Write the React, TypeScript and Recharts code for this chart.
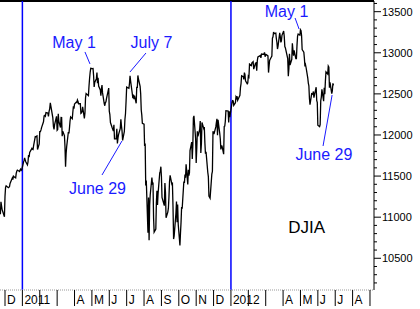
import { LineChart, Line, XAxis, YAxis, ReferenceLine, ReferenceDot } from 'recharts';

// DJIA daily closes (month-day / close)
const dates2010 = ['11-19', '11-23', '11-24', '11-26', '11-30', '12-01', '12-02', '12-03', '12-07', '12-09', '12-10', '12-14', '12-15', '12-16', '12-17', '12-20', '12-21', '12-22', '12-23', '12-27', '12-28', '12-29', '12-30', '12-31'];
const close2010 = [11204, 11036, 11187, 11092, 11006, 11255, 11362, 11382, 11359, 11370, 11410, 11476, 11457, 11499, 11491, 11478, 11533, 11559, 11573, 11555, 11575, 11585, 11569, 11577];

const dates2011 = [
  '01-03', '01-04', '01-05', '01-06', '01-07', '01-10', '01-11', '01-12', '01-13', '01-14', '01-18', '01-19', '01-20', '01-21', '01-24', '01-25', '01-26', '01-27', '01-28', '01-31',
  '02-01', '02-02', '02-03', '02-04', '02-07', '02-08', '02-09', '02-10', '02-11', '02-14', '02-15', '02-16', '02-17', '02-18', '02-22', '02-23', '02-24', '02-25', '02-28',
  '03-01', '03-02', '03-03', '03-04', '03-07', '03-08', '03-09', '03-10', '03-11', '03-14', '03-15', '03-16', '03-17', '03-18', '03-21', '03-22', '03-23', '03-24', '03-25', '03-28', '03-29', '03-30', '03-31',
  '04-01', '04-04', '04-05', '04-06', '04-07', '04-08', '04-11', '04-12', '04-13', '04-14', '04-15', '04-18', '04-19', '04-20', '04-21', '04-25', '04-26', '04-27', '04-28', '04-29',
  '05-02', '05-03', '05-04', '05-05', '05-06', '05-09', '05-10', '05-11', '05-12', '05-13', '05-16', '05-17', '05-18', '05-19', '05-20', '05-23', '05-24', '05-25', '05-26', '05-27', '05-31',
  '06-01', '06-02', '06-03', '06-06', '06-07', '06-08', '06-09', '06-10', '06-13', '06-14', '06-15', '06-16', '06-17', '06-20', '06-21', '06-22', '06-23', '06-24', '06-27', '06-28', '06-29', '06-30',
  '07-01', '07-05', '07-06', '07-07', '07-08', '07-11', '07-12', '07-13', '07-14', '07-15', '07-18', '07-19', '07-20', '07-21', '07-22', '07-25', '07-26', '07-27', '07-28', '07-29',
  '08-01', '08-02', '08-03', '08-04', '08-05', '08-08', '08-09', '08-10', '08-11', '08-12', '08-15', '08-16', '08-17', '08-18', '08-19', '08-22', '08-23', '08-24', '08-25', '08-26', '08-29', '08-30', '08-31',
  '09-01', '09-02', '09-06', '09-07', '09-08', '09-09', '09-12', '09-13', '09-14', '09-15', '09-16', '09-19', '09-20', '09-21', '09-22', '09-23', '09-26', '09-27', '09-28', '09-29', '09-30',
  '10-03', '10-04', '10-05', '10-06', '10-07', '10-10', '10-11', '10-12', '10-13', '10-14', '10-17', '10-18', '10-19', '10-20', '10-21', '10-24', '10-25', '10-26', '10-27', '10-28', '10-31',
  '11-01', '11-02', '11-03', '11-04', '11-07', '11-08', '11-09', '11-10', '11-11', '11-14', '11-15', '11-16', '11-17', '11-18', '11-21', '11-22', '11-23', '11-25', '11-28', '11-29', '11-30',
  '12-01', '12-02', '12-05', '12-06', '12-07', '12-08', '12-09', '12-12', '12-13', '12-14', '12-15', '12-16', '12-19', '12-20', '12-21', '12-22', '12-23', '12-27', '12-28', '12-29', '12-30',
];
const close2011 = [
  11670, 11691, 11722, 11697, 11674, 11637, 11671, 11755, 11731, 11787, 11837, 11825, 11822, 11871, 11980, 11978, 11985, 11989, 11823, 11891,
  12040, 12041, 12062, 12092, 12161, 12233, 12239, 12229, 12273, 12268, 12226, 12288, 12318, 12391, 12212, 12105, 12068, 12130, 12226,
  12058, 12066, 12258, 12169, 12090, 12214, 12213, 11984, 12044, 11993, 11855, 11613, 11775, 11858, 12036, 12018, 12086, 12170, 12220, 12198, 12279, 12350, 12320,
  12377, 12400, 12394, 12426, 12409, 12380, 12381, 12263, 12270, 12285, 12342, 12202, 12267, 12453, 12505, 12479, 12595, 12690, 12763, 12811,
  12807, 12808, 12723, 12584, 12638, 12685, 12760, 12630, 12696, 12596, 12548, 12479, 12560, 12606, 12512, 12381, 12356, 12394, 12402, 12442, 12570,
  12290, 12248, 12151, 12089, 12070, 12049, 12124, 11952, 11953, 12076, 11897, 11962, 12004, 12081, 12191, 12110, 12050, 11934, 12043, 12188, 12262, 12414,
  12583, 12569, 12626, 12719, 12658, 12505, 12447, 12492, 12437, 12480, 12385, 12588, 12572, 12724, 12681, 12593, 12502, 12303, 12241, 12143,
  12133, 11867, 11897, 11384, 11445, 10810, 11240, 10720, 11144, 11270, 11483, 11406, 11410, 10991, 10818, 10855, 11177, 11321, 11150, 11285, 11540, 11560, 11614,
  11494, 11240, 11140, 11415, 11296, 10993, 11062, 11106, 11247, 11434, 11510, 11401, 11408, 11125, 10734, 10772, 11044, 11191, 10939, 11154, 10913,
  10655, 10809, 10940, 11124, 11103, 11433, 11417, 11519, 11479, 11644, 11397, 11578, 11505, 11541, 11809, 11913, 11707, 11870, 12209, 12232, 11955,
  11658, 11836, 12044, 11984, 12069, 12170, 11781, 11894, 12153, 12079, 12096, 11906, 11771, 11796, 11547, 11494, 11258, 11231, 11523, 11556, 12046,
  12020, 12019, 12098, 12150, 12196, 11997, 12184, 12021, 11955, 11823, 11869, 11867, 11766, 12103, 12107, 12170, 12295, 12291, 12151, 12288, 12218,
];

const dates2012 = [
  '01-03', '01-04', '01-05', '01-06', '01-09', '01-10', '01-11', '01-12', '01-13', '01-17', '01-18', '01-19', '01-20', '01-23', '01-24', '01-25', '01-26', '01-27', '01-30', '01-31',
  '02-01', '02-02', '02-03', '02-06', '02-07', '02-08', '02-09', '02-10', '02-13', '02-14', '02-15', '02-16', '02-17', '02-21', '02-22', '02-23', '02-24', '02-27', '02-28', '02-29',
  '03-01', '03-02', '03-05', '03-06', '03-07', '03-08', '03-09', '03-12', '03-13', '03-14', '03-15', '03-16', '03-19', '03-20', '03-21', '03-22', '03-23', '03-26', '03-27', '03-28', '03-29', '03-30',
  '04-02', '04-03', '04-04', '04-05', '04-09', '04-10', '04-11', '04-12', '04-13', '04-16', '04-17', '04-18', '04-19', '04-20', '04-23', '04-24', '04-25', '04-26', '04-27', '04-30',
  '05-01', '05-02', '05-03', '05-04', '05-07', '05-08', '05-09', '05-10', '05-11', '05-14', '05-15', '05-16', '05-17', '05-18', '05-21', '05-22', '05-23', '05-24', '05-25', '05-29', '05-30', '05-31',
  '06-01', '06-04', '06-05', '06-06', '06-07', '06-08', '06-11', '06-12', '06-13', '06-14', '06-15', '06-18', '06-19', '06-20', '06-21', '06-22', '06-25', '06-26', '06-27', '06-28',
];
const close2012 = [
  12398, 12418, 12415, 12360, 12393, 12463, 12449, 12471, 12422, 12482, 12579, 12625, 12720, 12709, 12676, 12758, 12735, 12660, 12623, 12633,
  12716, 12705, 12862, 12845, 12878, 12884, 12891, 12801, 12874, 12878, 12781, 12904, 12950, 12966, 12938, 12985, 12983, 12982, 13005, 12952,
  12980, 12977, 12962, 12759, 12837, 12908, 12922, 12959, 13177, 13194, 13253, 13233, 13239, 13171, 13125, 13046, 13081, 13242, 13198, 13127, 13146, 13212,
  13264, 13199, 13075, 13060, 12930, 12716, 12806, 12987, 12850, 12921, 13116, 13032, 12965, 13029, 12928, 12928, 13090, 13204, 13229, 13214,
  13280, 13269, 13207, 13039, 13008, 12932, 12835, 12855, 12821, 12695, 12632, 12599, 12443, 12369, 12504, 12502, 12496, 12529, 12455, 12581, 12420, 12393,
  12119, 12101, 12127, 12415, 12461, 12555, 12412, 12574, 12497, 12652, 12767, 12742, 12838, 12825, 12574, 12641, 12503, 12535, 12628, 12602,
];

// x axis: one tick per month, Dec 2010 = 0
const monthTicks = [0, 1, 2, 3, 4, 5, 6, 7, 8, 9, 10, 11, 12, 13, 14, 15, 16, 17, 18, 19, 20, 21];
const monthLabels = ['D', '2011', '', '', 'A', 'M', 'J', 'J', 'A', 'S', 'O', 'N', 'D', '2012', '', '', 'A', 'M', 'J', 'J', 'A', ''];
const yearStarts = [1, 13];

const yMajor = [10500, 11000, 11500, 12000, 12500, 13000, 13500];

// annotations in chart units (month index, index level)
const notes = [
  { text: 'May 1', tx: 3.97, ty: 13058, x1: 4.6, y1: 13010, x2: 4.89, y2: 12864 },
  { text: 'July 7', tx: 8.43, ty: 13058, x1: 8.11, y1: 12997, x2: 7.19, y2: 12766 },
  { text: 'June 29', tx: 5.32, ty: 11282, x1: 5.58, y1: 11513, x2: 6.73, y2: 11927 },
  { text: 'May 1', tx: 16.2, ty: 13435, x1: 16.69, y1: 13423, x2: 16.92, y2: 13289 },
  { text: 'June 29', tx: 18.35, ty: 11696, x1: 18.3, y1: 11866, x2: 18.82, y2: 12486 },
];

const T_MIN = -0.288;
const T_MAX = 21.231;
const Y_MIN = 10114;
const Y_MAX = 13630;
const FONT = '"Liberation Sans", Arial, sans-serif';
const BLUE = '#1a1aff';

function toT(year: number, md: string) {
  const [m, d] = md.split('-').map(Number);
  const dim = new Date(year, m, 0).getDate();
  return (year - 2010) * 12 + (m - 1) - 11 + (d - 1) / dim;
}

const data = [
  ...dates2010.map((d, i) => ({ t: toT(2010, d), djia: close2010[i] })),
  ...dates2011.map((d, i) => ({ t: toT(2011, d), djia: close2011[i] })),
  ...dates2012.map((d, i) => ({ t: toT(2012, d), djia: close2012[i] })),
];

const yTicks: number[] = [];
for (let v = 10200; v <= 13600; v += 100) yTicks.push(v);

function MonthTick({ x, y, payload }: any) {
  return (
    <g>
      <line x1={x} y1={y} x2={x} y2={y + 16} stroke="#000" />
      <text x={x + 2} y={y + 14} fontSize={12} fontFamily={FONT} fill="#000">
        {monthLabels[payload.value]}
      </text>
    </g>
  );
}

function PriceTick({ x, y, payload }: any) {
  const major = yMajor.includes(payload.value);
  return (
    <g>
      <line x1={x} y1={y} x2={x + (major ? 7 : 3)} y2={y} stroke="#000" />
      {major && (
        <text x={x + 8} y={y + 4} fontSize={11} fontFamily={FONT} fill="#000">
          {payload.value}
        </text>
      )}
    </g>
  );
}

const noteLabel = (text: string, color: string, size: number) => (props: any) => {
  const vb = props.viewBox;
  return (
    <text x={vb.x + vb.width / 2} y={vb.y + vb.height / 2} textAnchor="middle" fontSize={size} fontFamily={FONT} fill={color}>
      {text}
    </text>
  );
};

export default function App() {
  return (
    <div style={{ position: 'absolute', left: 0, top: 0, width: 420, height: 309, background: '#fff' }}>
      <LineChart width={420} height={309} data={data} margin={{ top: 1, right: 0, left: 0, bottom: 0 }}>
        <XAxis
          type="number"
          dataKey="t"
          domain={[T_MIN, T_MAX]}
          allowDataOverflow
          ticks={monthTicks}
          interval={0}
          tick={MonthTick}
          tickLine={false}
          tickSize={0}
          tickMargin={0}
          height={19}
          axisLine={{ stroke: '#999', strokeDasharray: '1 1' }}
        />
        <YAxis
          orientation="right"
          type="number"
          domain={[Y_MIN, Y_MAX]}
          allowDataOverflow
          ticks={yTicks}
          interval={0}
          tick={PriceTick}
          tickLine={false}
          tickSize={0}
          tickMargin={0}
          width={46}
          axisLine={{ stroke: '#000' }}
        />
        <ReferenceLine y={Y_MAX} stroke="#000" strokeWidth={2} />
        {yearStarts.map((m) => (
          <ReferenceLine key={m} x={m} stroke="#0000ff" strokeWidth={1.5} />
        ))}
        <Line
          type="linear"
          dataKey="djia"
          stroke="#000"
          strokeWidth={1.3}
          dot={false}
          activeDot={false}
          isAnimationActive={false}
        />
        {notes.map((n, i) => (
          <ReferenceLine
            key={`l${i}`}
            segment={[{ x: n.x1, y: n.y1 }, { x: n.x2, y: n.y2 }]}
            stroke={BLUE}
            strokeWidth={1}
          />
        ))}
        {notes.map((n, i) => (
          <ReferenceDot key={`t${i}`} x={n.tx} y={n.ty} r={1} fill="none" stroke="none" label={noteLabel(n.text, BLUE, 16)} />
        ))}
        <ReferenceDot x={17.35} y={10808} r={1} fill="none" stroke="none" label={noteLabel('DJIA', '#000', 17)} />
      </LineChart>
    </div>
  );
}
